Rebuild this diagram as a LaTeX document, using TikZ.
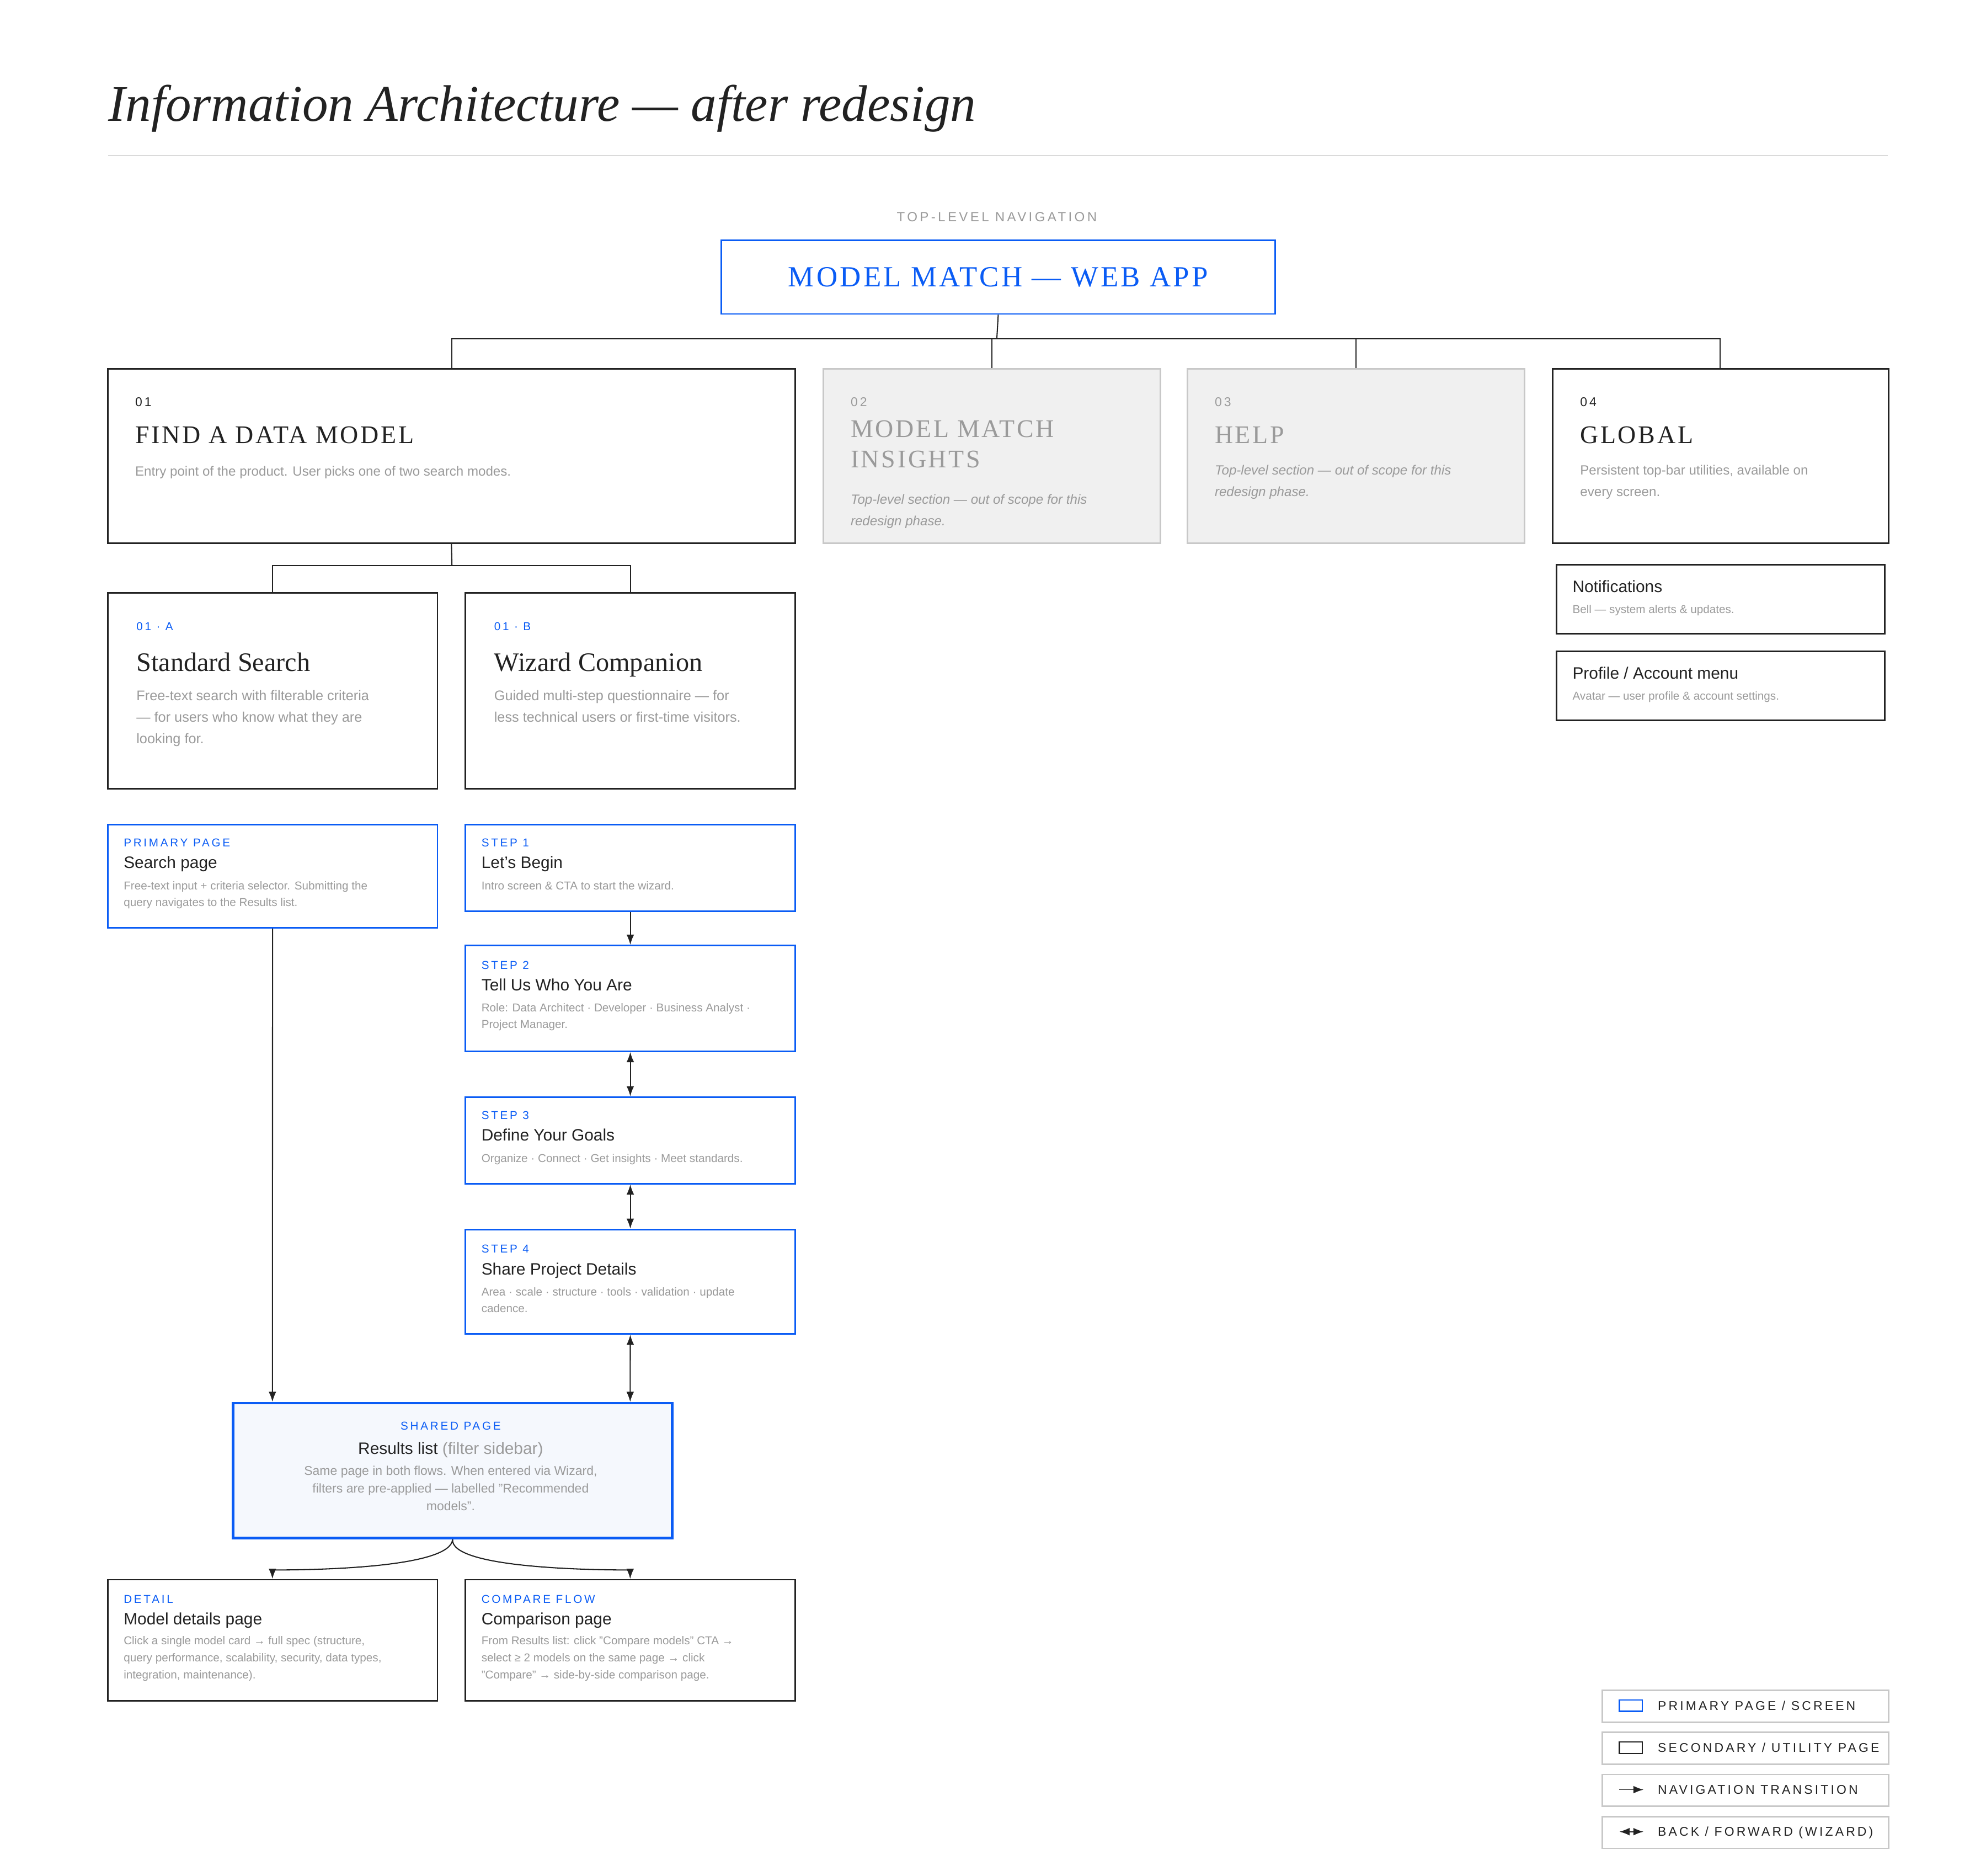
\documentclass[tikz,border=0pt]{standalone}
\usepackage{fontspec}
\setmainfont{Liberation Serif}
\setsansfont{Liberation Sans}
\newfontfamily\spsans{Liberation Sans}[LetterSpace=18]
\newfontfamily\spser{Liberation Serif}[LetterSpace=8]
\usetikzlibrary{arrows.meta}
\definecolor{blu}{HTML}{0A5CF5}
\definecolor{ink}{HTML}{222222}
\definecolor{gry}{HTML}{9A9A9A}
\definecolor{lgry}{HTML}{C8C8C8}
\definecolor{gfill}{HTML}{F0F0F0}
\definecolor{rfill}{HTML}{F5F8FD}
\begin{document}
\begin{tikzpicture}[x=1bp,y=-1bp,
  sec/.style={draw=ink,line width=1.2pt,fill=white},
  pri/.style={draw=blu,line width=1.2pt,fill=white},
  oos/.style={draw=lgry,line width=1.2pt,fill=gfill},
  leg/.style={draw=lgry,line width=1.2pt},
  t/.style={anchor=base west,inner sep=0pt,font=\sffamily},
  lbl/.style={t,font=\spsans\fontsize{9}{10}\selectfont,text=blu},
  num/.style={t,font=\spsans\fontsize{10}{11}\selectfont,text=ink},
  head/.style={t,font=\spser\fontsize{20}{24}\selectfont,text=ink},
  sh/.style={t,font=\rmfamily\fontsize{21}{24}\selectfont,text=ink},
  ttl/.style={t,font=\sffamily\fontsize{13}{15}\selectfont,text=ink},
  dsc/.style={t,font=\sffamily\fontsize{10.5}{13.5}\selectfont,text=gry,align=left,anchor=north west},
  con/.style={draw=ink,line width=0.9pt},
  arr/.style={con,-{Latex[length=8pt,width=6pt]}},
  darr/.style={con,{Latex[length=8pt,width=6pt]}-{Latex[length=8pt,width=6pt]}},
  legt/.style={t,font=\spsans\fontsize{10}{11}\selectfont,text=ink}]
\useasboundingbox (0,0) rectangle (1560,1473);
\fill[white] (0,0) rectangle (1560,1473);
% title
\node[t,font=\rmfamily\itshape\fontsize{40.5}{46}\selectfont,text=ink] (title) at (85,95) {Information Architecture — after redesign};
\coordinate (r1) at (85,122); \coordinate (r2) at (1483,122);
\draw[lgry,line width=0.8pt] (r1) -- (r2);
\node[t,anchor=base,font=\spsans\fontsize{10.5}{12}\selectfont,text=gry] (tln) at (783,174) {TOP-LEVEL NAVIGATION};
% root
\node[pri,minimum width=435bp,minimum height=58bp,anchor=north west] (root) at (566,188) {};
\node[anchor=center,font=\spser\fontsize{23}{26}\selectfont,text=blu] at (root.center) {MODEL MATCH — WEB APP};
% top boxes
\node[sec,minimum width=540bp,minimum height=137bp,anchor=north west] (b1) at (84,289) {};
\node[oos,minimum width=265bp,minimum height=137bp,anchor=north west] (b2) at (646,289) {};
\node[oos,minimum width=265bp,minimum height=137bp,anchor=north west] (b3) at (932,289) {};
\node[sec,minimum width=264bp,minimum height=137bp,anchor=north west] (b4) at (1219,289) {};
\coordinate (j0) at (783,266);
\draw[con] (root.south) -- (j0);
\draw[con] (355,289) |- (j0) -| (1351,289);
\draw[con] (779,266) -- (779,289);
\draw[con] (1065,266) -- (1065,289);
\node[num] at (106,319) {01};
\node[head] at (106,348) {FIND A DATA MODEL};
\node[dsc] at (106,366) {Entry point of the product. User picks one of two search modes.};
\node[num,text=gry] at (668,319) {02};
\node[head,text=gry,align=left,anchor=north west] at (668,330) {MODEL MATCH\\INSIGHTS};
\node[dsc,font=\sffamily\itshape\fontsize{10.5}{17}\selectfont] at (668,388) {Top-level section — out of scope for this\\redesign phase.};
\node[num,text=gry] at (954,319) {03};
\node[head,text=gry] at (954,348) {HELP};
\node[dsc,font=\sffamily\itshape\fontsize{10.5}{17}\selectfont] at (954,365) {Top-level section — out of scope for this\\redesign phase.};
\node[num] at (1241,319) {04};
\node[head] at (1241,348) {GLOBAL};
\node[dsc,font=\sffamily\fontsize{10.5}{17}\selectfont] at (1241,365) {Persistent top-bar utilities, available on\\every screen.};
% global subs
\node[sec,minimum width=258bp,minimum height=54bp,anchor=north west] (n1) at (1222,443) {};
\node[ttl] at (1235,465) {Notifications};
\node[dsc,font=\sffamily\fontsize{9}{11}\selectfont] at (1235,475) {Bell — system alerts \& updates.};
\node[sec,minimum width=258bp,minimum height=54bp,anchor=north west] (n2) at (1222,511) {};
\node[ttl] at (1235,533) {Profile / Account menu};
\node[dsc,font=\sffamily\fontsize{9}{11}\selectfont] at (1235,543) {Avatar — user profile \& account settings.};
% 01A/B
\node[sec,minimum width=259bp,minimum height=154bp,anchor=north west] (a) at (84,465) {};
\node[sec,minimum width=259bp,minimum height=154bp,anchor=north west] (bb) at (365,465) {};
\draw[con] (b1.south) -- (355,444);
\draw[con] (a.north) |- (355,444) -| (bb.north);
\node[lbl] at (107,495) {01 · A};
\node[sh] at (107,527) {Standard Search};
\node[dsc,font=\sffamily\fontsize{11}{17}\selectfont] at (107,542) {Free-text search with filterable criteria\\— for users who know what they are\\looking for.};
\node[lbl] at (388,495) {01 · B};
\node[sh] at (388,527) {Wizard Companion};
\node[dsc,font=\sffamily\fontsize{11}{17}\selectfont] at (388,542) {Guided multi-step questionnaire — for\\less technical users or first-time visitors.};
% primary page
\node[pri,minimum width=259bp,minimum height=81bp,anchor=north west] (sp) at (84,647) {};
\node[lbl] at (97,665) {PRIMARY PAGE};
\node[ttl] at (97,682) {Search page};
\node[dsc,font=\sffamily\fontsize{9}{13}\selectfont] at (97,692) {Free-text input + criteria selector. Submitting the\\query navigates to the Results list.};
% steps
\node[pri,minimum width=259bp,minimum height=68bp,anchor=north west] (s1) at (365,647) {};
\node[lbl] at (378,665) {STEP 1};
\node[ttl] at (378,682) {Let's Begin};
\node[dsc,font=\sffamily\fontsize{9}{13}\selectfont] at (378,692) {Intro screen \& CTA to start the wizard.};
\node[pri,minimum width=259bp,minimum height=83bp,anchor=north west] (s2) at (365,742) {};
\node[lbl] at (378,761) {STEP 2};
\node[ttl] at (378,778) {Tell Us Who You Are};
\node[dsc,font=\sffamily\fontsize{9}{13}\selectfont] at (378,788) {Role: Data Architect · Developer · Business Analyst ·\\Project Manager.};
\node[pri,minimum width=259bp,minimum height=68bp,anchor=north west] (s3) at (365,861) {};
\node[lbl] at (378,879) {STEP 3};
\node[ttl] at (378,896) {Define Your Goals};
\node[dsc,font=\sffamily\fontsize{9}{13}\selectfont] at (378,906) {Organize · Connect · Get insights · Meet standards.};
\node[pri,minimum width=259bp,minimum height=82bp,anchor=north west] (s4) at (365,965) {};
\node[lbl] at (378,984) {STEP 4};
\node[ttl] at (378,1001) {Share Project Details};
\node[dsc,font=\sffamily\fontsize{9}{13}\selectfont] at (378,1011) {Area · scale · structure · tools · validation · update\\cadence.};
% results
\node[draw=blu,line width=2pt,fill=rfill,minimum width=345bp,minimum height=106bp,anchor=north west] (res) at (182,1101) {};
\node[lbl,anchor=base] at (354,1123) {SHARED PAGE};
\node[t,anchor=base,font=\sffamily\fontsize{13}{15}\selectfont] at (354,1142) {\textcolor{ink}{Results list} \textcolor{gry}{(filter sidebar)}};
\node[dsc,anchor=north,align=center,font=\sffamily\fontsize{10}{14}\selectfont] at (354,1151) {Same page in both flows. When entered via Wizard,\\filters are pre-applied — labelled "Recommended\\models".};
% arrows
\draw[arr] (s1.south) -- (s2.north);
\draw[darr] (s2.south) -- (s3.north);
\draw[darr] (s3.south) -- (s4.north);
\draw[darr] (s4.south) -- (495,1101);
\draw[arr] (sp.south) -- (214,1101);
% bottom
\node[sec,minimum width=259bp,minimum height=95bp,anchor=north west] (det) at (84,1240) {};
\node[lbl] at (97,1259) {DETAIL};
\node[ttl] at (97,1276) {Model details page};
\node[dsc,font=\sffamily\fontsize{9}{13.5}\selectfont] at (97,1285) {Click a single model card → full spec (structure,\\query performance, scalability, security, data types,\\integration, maintenance).};
\node[sec,minimum width=259bp,minimum height=95bp,anchor=north west] (cmp) at (365,1240) {};
\node[lbl] at (378,1259) {COMPARE FLOW};
\node[ttl] at (378,1276) {Comparison page};
\node[dsc,font=\sffamily\fontsize{9}{13.5}\selectfont] at (378,1285) {From Results list: click "Compare models" CTA →\\select ≥ 2 models on the same page → click\\"Compare" → side-by-side comparison page.};
\coordinate (k1) at (214,1233); \coordinate (k2) at (495,1233);
\draw[con] (res.south) .. controls (354,1230) and (260,1233) .. (k1);
\draw[con] (res.south) .. controls (354,1230) and (450,1233) .. (k2);
\draw[arr] (k1) -- (det.north -| k1);
\draw[arr] (k2) -- (cmp.north -| k2);
% legend
\node[leg,minimum width=225bp,minimum height=25bp,anchor=north west] (l1) at (1258,1327) {};
\node[leg,minimum width=225bp,minimum height=25bp,anchor=north west] (l2) at (1258,1360) {};
\node[leg,minimum width=225bp,minimum height=25bp,anchor=north west] (l3) at (1258,1393) {};
\node[leg,minimum width=225bp,minimum height=25bp,anchor=north west] (l4) at (1258,1426) {};
\node[draw=blu,line width=1pt,minimum width=18bp,minimum height=9bp,inner sep=0pt] (i1) at (1281,1339.5) {};
\node[draw=ink,line width=1pt,minimum width=18bp,minimum height=9bp,inner sep=0pt] (i2) at (1281,1372.5) {};
\coordinate (i3a) at (1272,1405.5); \coordinate (i3b) at (1291,1405.5);
\coordinate (i4a) at (1272,1438.5); \coordinate (i4b) at (1291,1438.5);
\draw[arr,line width=0.8pt] (i3a) -- (i3b);
\draw[darr,line width=0.8pt] (i4a) -- (i4b);
\node[legt] at (1302,1343) {PRIMARY PAGE / SCREEN};
\node[legt] at (1302,1376) {SECONDARY / UTILITY PAGE};
\node[legt] at (1302,1409) {NAVIGATION TRANSITION};
\node[legt] at (1302,1442) {BACK / FORWARD (WIZARD)};
\end{tikzpicture}
\end{document}
